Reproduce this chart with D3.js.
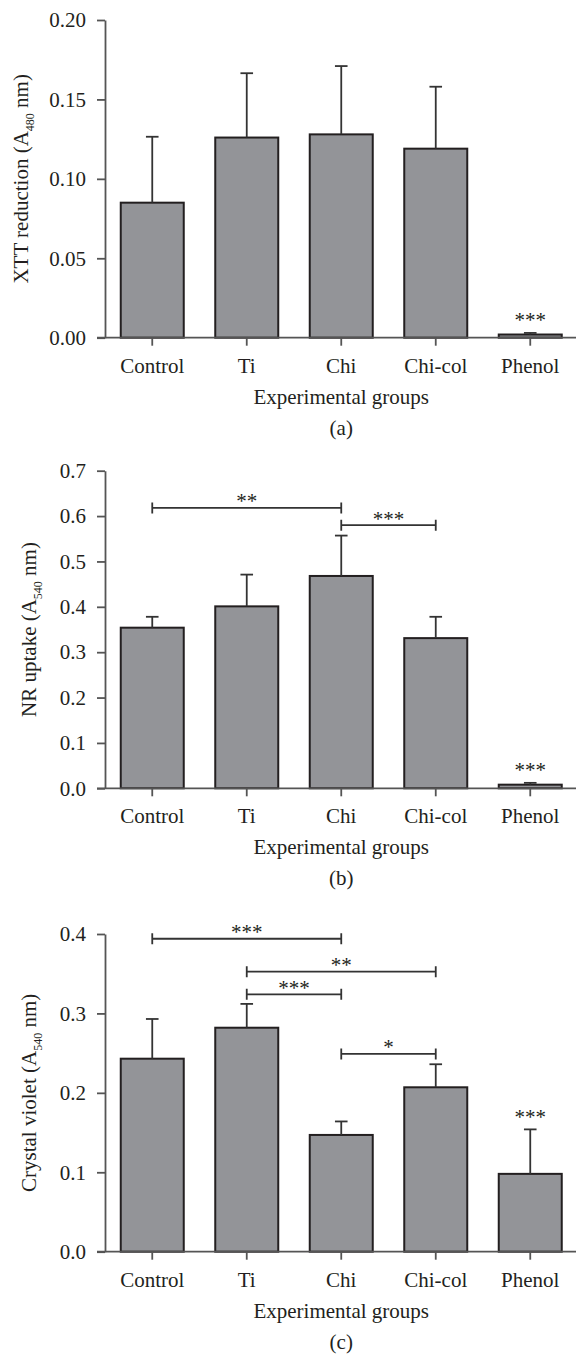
<!DOCTYPE html>
<html>
<head>
<meta charset="utf-8">
<script src="https://cdn.jsdelivr.net/npm/d3@7"></script>
<style>
  body { margin: 0; background: #fff; }
  svg text { font-family: "Liberation Serif", "Times New Roman", serif; fill: #231f20; }
</style>
</head>
<body>
<div id="chart"></div>
<script>
// Data
const groups = ["Control", "Ti", "Chi", "Chi-col", "Phenol"];

const xttMean = [0.085, 0.126, 0.128, 0.119, 0.002];
const xttErr = [0.0415, 0.0405, 0.043, 0.039, 0.001];

const nrMean = [0.354, 0.401, 0.468, 0.331, 0.008];
const nrErr = [0.024, 0.070, 0.089, 0.047, 0.004];

const cvMean = [0.243, 0.282, 0.147, 0.207, 0.098];
const cvErr = [0.050, 0.030, 0.017, 0.029, 0.056];

const xttTicks = [0, 0.05, 0.10, 0.15, 0.20];
const nrTicks = [0, 0.1, 0.2, 0.3, 0.4, 0.5, 0.6, 0.7];
const cvTicks = [0, 0.1, 0.2, 0.3, 0.4];

// significance brackets: [from, to, level, label]
const nrBrackets = [
  ["Control", "Chi", 0.618, "**"],
  ["Chi", "Chi-col", 0.580, "***"]
];
const cvBrackets = [
  ["Control", "Chi", 0.394, "***"],
  ["Ti", "Chi-col", 0.3526, "**"],
  ["Ti", "Chi", 0.324, "***"],
  ["Chi", "Chi-col", 0.249, "*"]
];

const width = 576, height = 1356;
const svg = d3.select("#chart").append("svg")
  .attr("width", width)
  .attr("height", height);

const axisX = 105;
const x = d3.scaleBand()
  .domain(groups)
  .range([axisX, 577.5])
  .paddingInner(1 / 3)
  .paddingOuter(1 / 6);

const panels = [
  { top: 20, bottom: 337.7, max: 0.20, ticks: xttTicks, fmt: ".2f",
    mean: xttMean, err: xttErr, brackets: [], title: "XTT reduction (A", sub: "480",
    titleX: 28, letter: "(a)" },
  { top: 470.7, bottom: 788.3, max: 0.7, ticks: nrTicks, fmt: ".1f",
    mean: nrMean, err: nrErr, brackets: nrBrackets, title: "NR uptake (A", sub: "540",
    titleX: 36, letter: "(b)" },
  { top: 934, bottom: 1251.7, max: 0.4, ticks: cvTicks, fmt: ".1f",
    mean: cvMean, err: cvErr, brackets: cvBrackets, title: "Crystal violet (A", sub: "540",
    titleX: 36, letter: "(c)" }
];

const xCenter = (g) => x(g) + x.bandwidth() / 2;

panels.forEach((p) => {
  const g = svg.append("g");
  const y = d3.scaleLinear().domain([0, p.max]).range([p.bottom, p.top]);
  const data = groups.map((name, i) => ({ name, mean: p.mean[i], err: p.err[i] }));

  // Y axis
  const yAxis = g.append("g")
    .attr("transform", `translate(${axisX},0)`)
    .call(d3.axisLeft(y).tickValues(p.ticks).tickFormat(d3.format(p.fmt))
      .tickSize(8).tickSizeOuter(0).tickPadding(11));
  yAxis.select(".domain").attr("stroke", "#555").attr("stroke-width", 1.8);
  yAxis.selectAll(".tick line").attr("stroke", "#555").attr("stroke-width", 1.8);
  yAxis.selectAll("text")
    .attr("font-size", "21px")
    .attr("font-family", "Liberation Serif, serif")
    .attr("fill", "#231f20");

  // Bars
  g.selectAll(".bar")
    .data(data)
    .enter()
    .append("rect")
    .attr("class", "bar")
    .attr("x", (d) => x(d.name))
    .attr("y", (d) => y(d.mean))
    .attr("width", x.bandwidth())
    .attr("height", (d) => y(0) - y(d.mean))
    .attr("fill", "#939498")
    .attr("stroke", "#231f20")
    .attr("stroke-width", 2);

  // Error bars (upper only)
  const eb = g.selectAll(".err").data(data).enter().append("g").attr("class", "err");
  eb.append("line")
    .attr("x1", (d) => xCenter(d.name))
    .attr("x2", (d) => xCenter(d.name))
    .attr("y1", (d) => y(d.mean))
    .attr("y2", (d) => y(d.mean + d.err))
    .attr("stroke", "#333")
    .attr("stroke-width", 1.8);
  eb.append("line")
    .attr("x1", (d) => xCenter(d.name) - 6.3)
    .attr("x2", (d) => xCenter(d.name) + 6.3)
    .attr("y1", (d) => y(d.mean + d.err))
    .attr("y2", (d) => y(d.mean + d.err))
    .attr("stroke", "#333")
    .attr("stroke-width", 1.8);

  // X axis
  const xAxis = g.append("g")
    .attr("transform", `translate(0,${p.bottom})`)
    .call(d3.axisBottom(x).tickSize(8).tickSizeOuter(0).tickPadding(12));
  xAxis.select(".domain")
    .attr("d", `M${axisX - 8},0H${width}`)
    .attr("stroke", "#555")
    .attr("stroke-width", 1.8);
  xAxis.selectAll(".tick line").attr("stroke", "#555").attr("stroke-width", 1.8);
  xAxis.selectAll("text")
    .attr("font-size", "21px")
    .attr("font-family", "Liberation Serif, serif")
    .attr("fill", "#231f20");

  // Phenol significance
  const ph = data[groups.indexOf("Phenol")];
  g.append("text")
    .attr("x", xCenter("Phenol"))
    .attr("y", y(ph.mean + ph.err) - 5.5)
    .attr("text-anchor", "middle")
    .attr("font-size", "21px")
    .attr("fill", "#555")
    .text("***");

  // Brackets
  p.brackets.forEach(([a, b, lvl, label]) => {
    const x1 = xCenter(a), x2 = xCenter(b), yy = y(lvl);
    const br = g.append("g");
    br.append("path")
      .attr("d", `M${x1},${yy - 5.5}V${yy + 5.5}M${x1},${yy}H${x2}M${x2},${yy - 5.5}V${yy + 5.5}`)
      .attr("fill", "none")
      .attr("stroke", "#333")
      .attr("stroke-width", 1.8);
    br.append("text")
      .attr("x", (x1 + x2) / 2)
      .attr("y", yy + 0.5)
      .attr("text-anchor", "middle")
      .attr("font-size", "21px")
      .attr("fill", "#555")
      .text(label);
  });

  // Axis titles
  const midY = (p.top + p.bottom) / 2;
  const yt = g.append("text")
    .attr("transform", `translate(${p.titleX},${midY}) rotate(-90)`)
    .attr("text-anchor", "middle")
    .attr("font-size", "21px");
  yt.append("tspan").text(p.title);
  yt.append("tspan").attr("font-size", "12px").attr("dy", 6).text(p.sub);
  yt.append("tspan").attr("dy", -6).text(" nm)");

  const cx = (axisX + 577.5) / 2;
  g.append("text")
    .attr("x", cx)
    .attr("y", p.bottom + 66)
    .attr("text-anchor", "middle")
    .attr("font-size", "21px")
    .text("Experimental groups");

  g.append("text")
    .attr("x", cx)
    .attr("y", p.bottom + 97)
    .attr("text-anchor", "middle")
    .attr("font-size", "21px")
    .text(p.letter);
});
</script>
</body>
</html>
